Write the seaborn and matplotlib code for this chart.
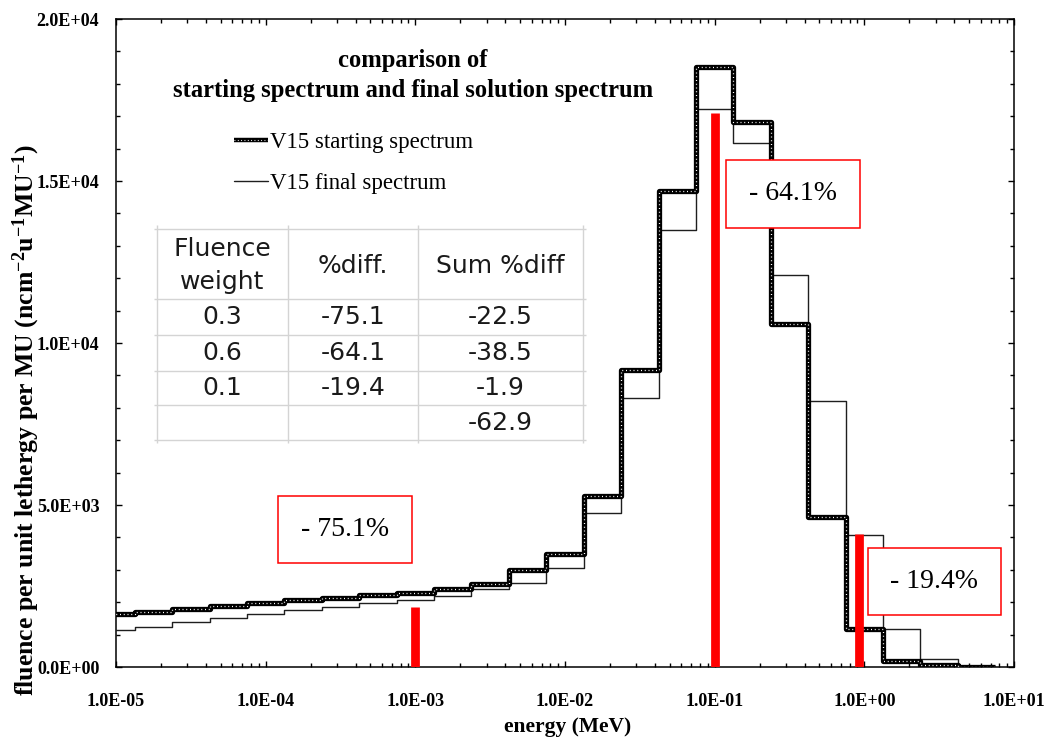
import numpy as np
import pandas as pd
import matplotlib
matplotlib.use("Agg")
import matplotlib.pyplot as plt
import matplotlib.ticker as mticker
from matplotlib.lines import Line2D
from matplotlib.patches import Rectangle
import seaborn as sns

# ---- spectrum data: 4 bins per decade, lower edges at 10^(-5.125 + 0.25k) ----
bin_edges_log10 = [-5.125 + 0.25 * k for k in range(25)]
starting_spectrum = [1630, 1710, 1780, 1880, 1985, 2060, 2140, 2220, 2295, 2400,
                     2550, 3000, 3490, 5280, 9170, 14690, 18530, 16820, 10600,
                     4640, 1170, 175, 50, 15]
final_spectrum = [1130, 1235, 1390, 1520, 1650, 1750, 1850, 1985, 2060, 2190,
                  2400, 2600, 3065, 4760, 8310, 13490, 17210, 16180, 12100,
                  8210, 4070, 1170, 245, 20]

# red markers at the three weighting energies
marker_energy = [1.0e-3, 1.0e-1, 0.92]
marker_height = [1850, 17100, 4100]
marker_labels = ["- 75.1%", "- 64.1%", "- 19.4%"]

# summary table
table_header = [["Fluence", "weight"], ["%diff."], ["Sum %diff"]]
fluence_weight = ["0.3", "0.6", "0.1", ""]
pct_diff = ["-75.1", "-64.1", "-19.4", ""]
sum_pct_diff = ["-22.5", "-38.5", "-1.9", "-62.9"]

title_lines = ["comparison of", "starting spectrum and final solution spectrum"]
legend_labels = ["V15 starting spectrum", "V15 final spectrum"]

# ---- styling ----
sns.set_theme(style="ticks")
plt.rcParams["font.family"] = ["Liberation Serif", "DejaVu Serif"]
plt.rcParams["mathtext.fontset"] = "custom"
plt.rcParams["mathtext.rm"] = "Liberation Serif:bold"
plt.rcParams["mathtext.it"] = "Liberation Serif:bold"
plt.rcParams["mathtext.bf"] = "Liberation Serif:bold"

W, H = 1048, 738
fig = plt.figure(figsize=(W / 100, H / 100), dpi=100)
fig.patch.set_facecolor("white")


def fx(px):
    return px / W


def fy(py):
    return 1 - py / H


ax_l, ax_r, ax_t, ax_b = 116, 1014, 19, 667
ax = fig.add_axes([fx(ax_l), fy(ax_b), (ax_r - ax_l) / W, (ax_b - ax_t) / H])
ax.set_facecolor("white")
ax.set_xscale("log")

edges = 10.0 ** np.array(bin_edges_log10)


def steps(values, name):
    return pd.DataFrame({"energy": edges,
                         "fluence": list(values) + [values[-1]],
                         "series": name})


df_start = steps(starting_spectrum, legend_labels[0])
df_final = steps(final_spectrum, legend_labels[1])

sns.lineplot(data=df_final, x="energy", y="fluence", drawstyle="steps-post",
             estimator=None, sort=False, color="#1e1e1e", lw=1.0, ax=ax,
             legend=False, zorder=3)
sns.lineplot(data=df_start, x="energy", y="fluence", drawstyle="steps-post",
             estimator=None, sort=False, color="black", lw=3.8, ax=ax,
             legend=False, zorder=4, solid_capstyle="butt")
sns.lineplot(data=df_start, x="energy", y="fluence", drawstyle="steps-post",
             estimator=None, sort=False, color="white", lw=0.9, ax=ax,
             legend=False, zorder=5, linestyle=(0, (0.8, 2.2)))

ax.vlines(marker_energy, 0, marker_height, colors="#ff0000", lw=6.3, zorder=6)

ax.set_xlim(1e-5, 1e1)
ax.set_ylim(0, 20000)
ax.xaxis.set_major_locator(mticker.LogLocator(base=10, numticks=20))
ax.xaxis.set_minor_locator(mticker.LogLocator(base=10, subs=np.arange(2, 10), numticks=100))
ax.xaxis.set_minor_formatter(mticker.NullFormatter())
ax.xaxis.set_major_formatter(mticker.FuncFormatter(lambda v, p: "%.1E" % v))
ax.yaxis.set_major_locator(mticker.MultipleLocator(5000))
ax.yaxis.set_minor_locator(mticker.MultipleLocator(1000))
ax.yaxis.set_major_formatter(mticker.FuncFormatter(lambda v, p: "%.1E" % v))

ax.tick_params(which="both", direction="in", top=True, right=True,
               color="black", width=1.0)
ax.tick_params(which="major", length=4.5)
ax.tick_params(which="minor", length=3.2)
ax.tick_params(axis="x", which="major", pad=19)
ax.tick_params(axis="y", which="major", pad=12)
for lab in ax.get_xticklabels() + ax.get_yticklabels():
    lab.set_fontsize(13)
    lab.set_fontweight("bold")
    lab.set_color("black")
for s in ax.spines.values():
    s.set_color("black")
    s.set_linewidth(1.1)
    s.set_visible(True)
ax.grid(False)

ax.set_xlabel("energy (MeV)", fontsize=15.5, fontweight="bold", color="black")
ax.xaxis.set_label_coords((568 - ax_l) / (ax_r - ax_l), (ax_b - 717) / (ax_b - ax_t))
ax.set_ylabel("fluence per unit lethergy per MU (ncm$^{-2}$u$^{-1}$MU$^{-1}$)",
              fontsize=18.5, fontweight="bold", color="black")
ax.yaxis.set_label_coords((42 - ax_l) / (ax_r - ax_l), (ax_b - 420) / (ax_b - ax_t))

# title inside the plotting area
fig.text(fx(413), fy(61), title_lines[0], ha="center", va="center",
         fontsize=17.7, fontweight="bold", color="black")
fig.text(fx(413), fy(91), title_lines[1], ha="center", va="center",
         fontsize=17.7, fontweight="bold", color="black")

# legend
h_start = (Line2D([], [], color="black", lw=3.2, solid_capstyle="butt"),
           Line2D([], [], color="white", lw=0.8, linestyle=(0, (0.8, 2.2))))
h_final = Line2D([], [], color="#1e1e1e", lw=1.0)
leg = ax.legend([h_start, h_final], legend_labels, frameon=False,
                loc="upper left",
                bbox_to_anchor=((234 - ax_l) / (ax_r - ax_l), (ax_b - 132) / (ax_b - ax_t)),
                fontsize=16.5, handlelength=1.5, handletextpad=0.05,
                labelspacing=0.85, borderaxespad=0, borderpad=0)
for t in leg.get_texts():
    t.set_color("black")

# summary table
tab = fig.add_axes([fx(150), fy(446), 440 / W, 224 / H])
tab.set_xlim(150, 590)
tab.set_ylim(446, 222)
tab.axis("off")
grid_c = "#d4d4d4"
row_y = [229, 299, 335, 371, 405, 440]
col_x = [157, 288, 418, 583]
tab.hlines(row_y, 154, 586, colors=grid_c, lw=1.0)
tab.vlines(col_x, 225, 443, colors=grid_c, lw=1.0)
col_c = [(col_x[i] + col_x[i + 1]) / 2 for i in range(3)]
tfont = dict(family=["DejaVu Sans"], fontsize=18, color="#1a1a1a",
             ha="center", va="center")
tab.text(col_c[0], 249, table_header[0][0], **tfont)
tab.text(col_c[0], 282, table_header[0][1], **tfont)
tab.text(col_c[1], 266, table_header[1][0], **tfont)
tab.text(col_c[2], 266, table_header[2][0], **tfont)
for i in range(4):
    yc = (row_y[i + 1] + row_y[i + 2]) / 2
    tab.text(col_c[0], yc, fluence_weight[i], **tfont)
    tab.text(col_c[1], yc, pct_diff[i], **tfont)
    tab.text(col_c[2], yc, sum_pct_diff[i], **tfont)

# percentage call-out boxes
boxes = [(278, 496, 412, 563), (726, 160, 860, 228), (868, 548, 1001, 615)]
for (x0, y0, x1, y1), lab in zip(boxes, marker_labels):
    fig.add_artist(Rectangle((fx(x0), fy(y1)), (x1 - x0) / W, (y1 - y0) / H,
                             transform=fig.transFigure, facecolor="white",
                             edgecolor="#ff0000", lw=1.1, zorder=10))
    fig.text(fx((x0 + x1) / 2), fy((y0 + y1) / 2), lab, ha="center", va="center",
             fontsize=20, color="black", zorder=11)

fig.savefig("out.png", dpi=100, facecolor="white")
